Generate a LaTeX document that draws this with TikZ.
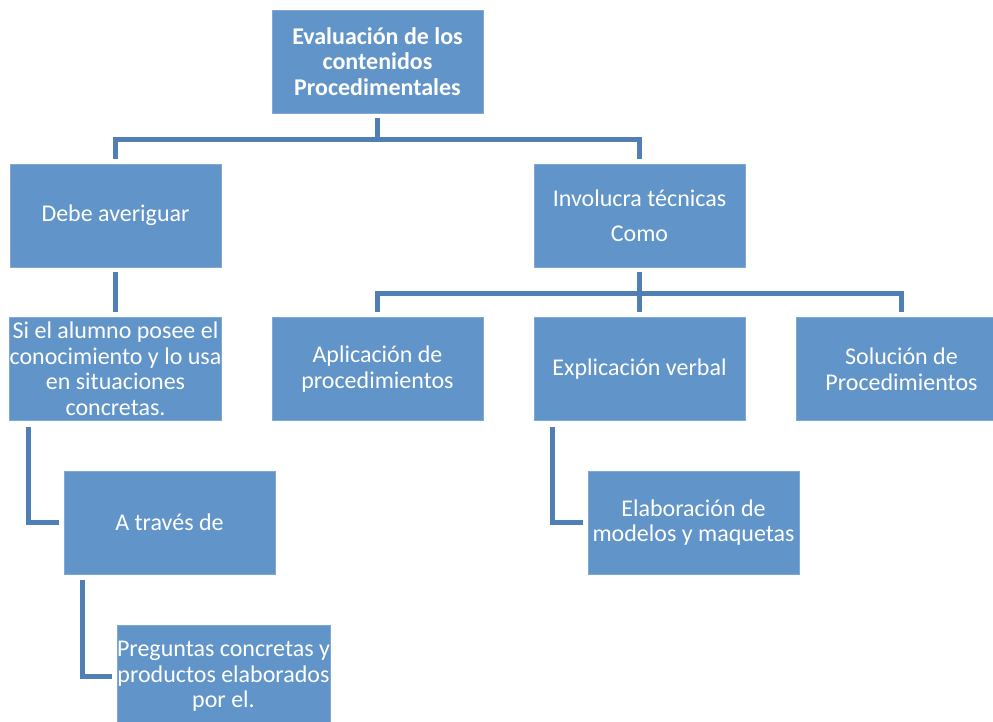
\documentclass[tikz,border=0pt]{standalone}
\usepackage{fontspec}
\setmainfont{Carlito}
\definecolor{cajaazul}{HTML}{6195C9}
\definecolor{bordeazul}{HTML}{7FA9D4}
\definecolor{lineaazul}{HTML}{4F7FB4}
\tikzset{
  caja/.style={rectangle, fill=cajaazul, draw=bordeazul, line width=0.6pt,
    minimum width=211pt, minimum height=103pt, inner sep=0pt,
    align=center, text=white, font=\fontsize{24}{25.5}\selectfont},
  conector/.style={draw=lineaazul, line width=5pt}
}
\begin{document}
\begin{tikzpicture}[x=1pt,y=1pt]
                \useasboundingbox (0,0) rectangle (993,-721);

                % Nodo principal
                \node[caja, font=\fontsize{24}{25.5}\selectfont\bfseries] (evaluacion) at (377.5,-61.5)
                    {Evaluaci\'on de los\\contenidos\\Procedimentales};

                % Segundo nivel
                \node[caja] (debe) at (115.5,-215.5) {Debe averiguar};
                \node[caja] (involucra) at (639.5,-215.5) {Involucra t\'ecnicas\\[9.5pt]Como};

                % Tercer nivel
                \node[caja] (alumno) at (115.5,-369) {Si el alumno posee el\\conocimiento y lo usa\\en situaciones\\concretas.};
                \node[caja] (aplicacion) at (377.5,-369) {Aplicaci\'on de\\procedimientos};
                \node[caja] (explicacion) at (639.5,-369) {Explicaci\'on verbal};
                \node[caja] (solucion) at (901.5,-369) {Soluci\'on de\\Procedimientos};

                % Cuarto nivel
                \node[caja] (traves) at (169.5,-522.5) {A trav\'es de};
                \node[caja] (elaboracion) at (693.5,-522.5) {Elaboraci\'on de\\modelos y maquetas};

                % Quinto nivel
                \node[caja] (preguntas) at (223.5,-676.5) {Preguntas concretas y\\productos elaborados\\por el.};

                % Conectores
                \draw[conector] ([yshift=-5pt]evaluacion.south) -- ++(0,-21) -| ([yshift=5pt]debe.north);
                \draw[conector] ([yshift=-5pt]evaluacion.south) -- ++(0,-21) -| ([yshift=5pt]involucra.north);
                \draw[conector] ([yshift=-5pt]debe.south) -- ([yshift=5pt]alumno.north);
                \draw[conector] ([yshift=-5pt]involucra.south) -- ++(0,-21) -| ([yshift=5pt]aplicacion.north);
                \draw[conector] ([yshift=-5pt]involucra.south) -- ++(0,-21) -| ([yshift=5pt]solucion.north);
                \draw[conector] ([yshift=-5pt]involucra.south) -- ([yshift=5pt]explicacion.north);
                \draw[conector] ([xshift=19pt,yshift=-6pt]alumno.south west) |- ([xshift=-5pt]traves.west);
                \draw[conector] ([xshift=19pt,yshift=-6pt]explicacion.south west) |- ([xshift=-5pt]elaboracion.west);
                \draw[conector] ([xshift=19pt,yshift=-6pt]traves.south west) |- ([xshift=-5pt]preguntas.west);
\end{tikzpicture}
\end{document}
